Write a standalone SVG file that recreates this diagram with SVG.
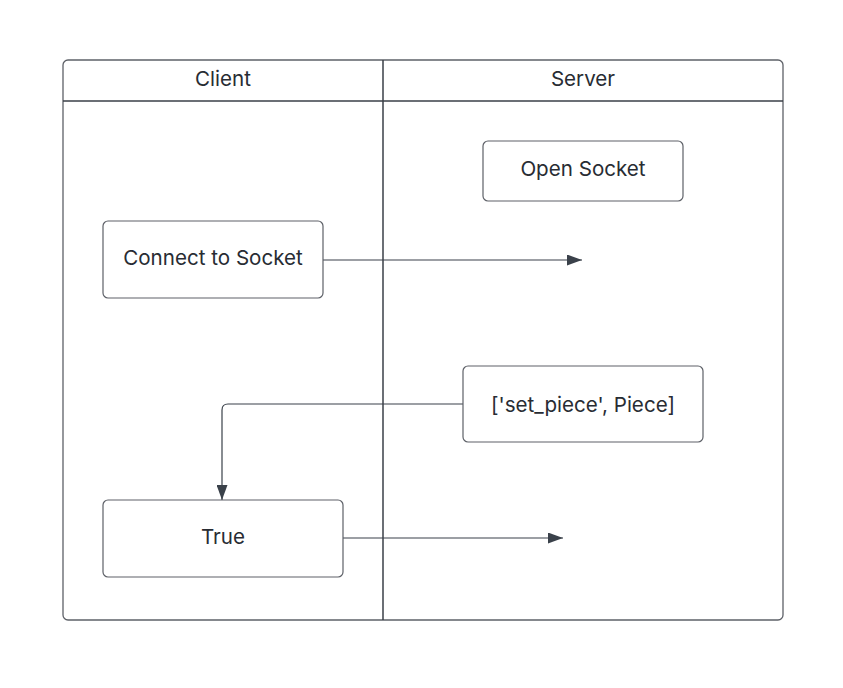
<svg xmlns="http://www.w3.org/2000/svg" width="843" height="688" viewBox="0 0 843 688">
<style>
.lane{fill:none;stroke:#5e6168;stroke-width:1.3}
.div{stroke:#3a3f47;stroke-width:1.5}
.node{fill:#ffffff;stroke:#5e6168;stroke-width:1.2}
.t{font-family:Inter,"Liberation Sans",sans-serif;font-size:20.6px;fill:#282c33;text-anchor:middle;dominant-baseline:central}
.c{fill:none;stroke:#3a414a;stroke-width:1.2}
</style>
<defs>
<marker id="ah" viewBox="0 0 15 11" refX="15" refY="5.5" markerWidth="15" markerHeight="11" markerUnits="userSpaceOnUse" orient="auto">
<path d="M0,0 L15,5.5 L0,11 Z" fill="#3a414a"/>
</marker>
</defs>
<rect width="843" height="688" fill="#ffffff"/>
<g id="pool">
<rect class="lane" x="63" y="60" width="720" height="560" rx="5"/>
<line class="div" x1="63" y1="101" x2="783" y2="101"/>
<line class="div" x1="383" y1="60" x2="383" y2="620"/>
<text class="t" x="223" y="78">Client</text>
<text class="t" x="583" y="78">Server</text>
</g>
<g id="connectors">
<path class="c" d="M323,260 H582" marker-end="url(#ah)"/>
<path class="c" d="M463,404 H228 Q222,404 222,410 V500" marker-end="url(#ah)"/>
<path class="c" d="M343,538 H563" marker-end="url(#ah)"/>
</g>
<g id="open-socket">
<rect class="node" x="483" y="141" width="200" height="60" rx="5"/>
<text class="t" x="583" y="168">Open Socket</text>
</g>
<g id="connect-to-socket">
<rect class="node" x="103" y="221" width="220" height="77" rx="5"/>
<text class="t" x="213" y="257">Connect to Socket</text>
</g>
<g id="set-piece">
<rect class="node" x="463" y="366" width="240" height="76" rx="5"/>
<text class="t" x="583" y="404">['set_piece', Piece]</text>
</g>
<g id="true">
<rect class="node" x="103" y="500" width="240" height="77" rx="5"/>
<text class="t" x="223" y="536">True</text>
</g>
</svg>
